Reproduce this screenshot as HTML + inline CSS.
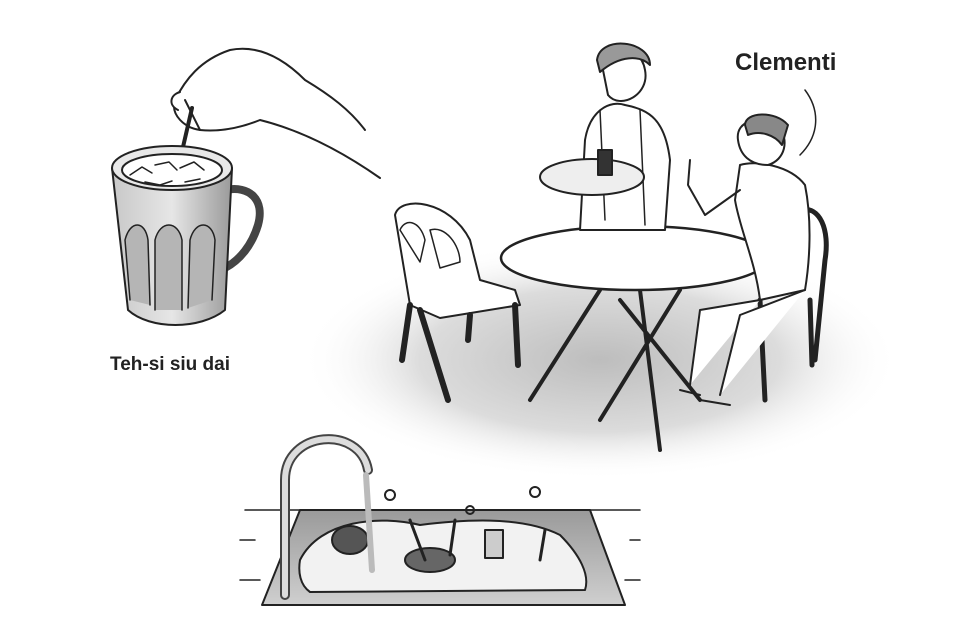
<!DOCTYPE html>
<html><head><meta charset="utf-8"><style>
html,body{margin:0;padding:0;background:#fff;width:960px;height:640px;overflow:hidden}
svg{display:block}
text{font-family:"Liberation Sans",sans-serif;font-weight:bold;fill:#222}
</style></head><body>
<svg width="960" height="640" viewBox="0 0 960 640" xmlns="http://www.w3.org/2000/svg">
<defs>
<radialGradient id="sh" cx="0.5" cy="0.5" r="0.5">
<stop offset="0" stop-color="#bdbdbd"/><stop offset="0.6" stop-color="#dcdcdc"/><stop offset="1" stop-color="#fff" stop-opacity="0"/>
</radialGradient>
<linearGradient id="mug" x1="0" x2="1"><stop offset="0" stop-color="#c8c8c8"/><stop offset="0.5" stop-color="#e6e6e6"/><stop offset="1" stop-color="#9a9a9a"/></linearGradient>
<linearGradient id="sink" x1="0" y1="0" x2="0" y2="1"><stop offset="0" stop-color="#9a9a9a"/><stop offset="1" stop-color="#cfcfcf"/></linearGradient>
</defs>
<g stroke="#222" stroke-width="2" fill="none" stroke-linecap="round" stroke-linejoin="round">
<!-- shadow -->
<ellipse cx="600" cy="360" rx="300" ry="120" fill="url(#sh)" stroke="none"/>
<!-- hand -->
<path d="M380 178 C340 150 300 130 260 120 C240 128 220 132 200 130 C185 128 170 115 175 100 C185 80 200 60 230 50 C255 45 280 55 305 80 C330 95 350 110 365 130" fill="#fff"/>
<path d="M200 130 C195 120 190 110 185 100"/>
<path d="M180 92 C170 95 168 105 178 110" fill="#fff"/>
<!-- spoon -->
<line x1="192" y1="108" x2="180" y2="160" stroke-width="4"/>
<!-- mug -->
<path d="M225 190 C250 185 265 200 258 225 C252 245 240 260 225 268" stroke-width="8" stroke="#444"/>
<path d="M112 168 L128 310 C150 330 200 330 225 310 L232 168 Z" fill="url(#mug)"/>
<ellipse cx="172" cy="168" rx="60" ry="22" fill="#e8e8e8"/>
<ellipse cx="172" cy="170" rx="50" ry="16" fill="#fff"/>
<path d="M130 175 l12 -8 l10 6 M155 165 l14 -3 l8 8 M180 168 l14 -6 l10 8 M145 182 l15 3 l12 -4 M185 182 l15 -3" stroke-width="1.5"/>
<path d="M130 300 L125 240 C130 220 145 220 148 240 L150 305 M155 310 L155 240 C160 220 178 220 182 240 L182 310 M188 308 L190 240 C195 220 212 220 215 240 L212 300" fill="#b5b5b5" stroke-width="1.5"/>
<!-- left chair -->
<path d="M395 215 C400 195 450 200 470 240 L480 280 L515 290 L520 305 L440 318 L410 305 Z" fill="#fff"/>
<path d="M400 230 C405 218 420 220 425 240 L420 262 Z M430 230 C445 225 460 245 460 262 L440 268 Z" fill="#fff" stroke-width="1.5"/>
<path d="M410 305 L402 360 M420 310 L448 400 M515 305 L518 365 M470 315 L468 340" stroke-width="6"/>
<!-- table -->
<path d="M600 290 L530 400 M640 290 L660 450 M680 290 L600 420 M620 300 L700 400" stroke-width="4"/>
<ellipse cx="635" cy="258" rx="134" ry="32" fill="#fff" stroke-width="2.5"/>
<!-- waiter -->
<path d="M580 230 L585 140 C590 110 610 100 625 105 C650 110 665 120 670 160 L665 230 Z" fill="#fff"/>
<path d="M600 110 L605 220 M640 110 L645 225" stroke-width="1.5"/>
<path d="M603 70 C600 45 640 40 645 70 C650 95 620 110 608 95 Z" fill="#fff"/>
<path d="M597 60 C600 35 650 40 650 65 C640 55 620 55 600 72 Z" fill="#999"/>
<ellipse cx="592" cy="177" rx="52" ry="18" fill="#eee"/>
<rect x="598" y="150" width="14" height="25" fill="#333"/>
<!-- man chair -->
<path d="M800 210 C820 205 830 230 825 260 L815 360 M760 300 L765 400 M810 300 L812 365" stroke-width="5"/>
<!-- man -->
<path d="M740 165 C755 160 790 165 805 185 C812 220 810 260 805 290 L760 300 C755 260 740 230 735 200 Z" fill="#fff"/>
<path d="M738 140 C735 120 760 115 778 125 C790 140 785 160 768 165 C750 165 740 155 738 140 Z" fill="#fff"/>
<path d="M745 125 C745 112 775 110 788 125 L782 145 C775 135 760 130 748 135 Z" fill="#888"/>
<path d="M740 190 L705 215 L688 185 M688 185 L690 160" stroke-width="2"/>
<path d="M760 300 L700 310 L690 385 M805 290 L740 315 L720 395" fill="#fff"/>
<path d="M680 390 L700 395 M700 400 L730 405"/>
<path d="M805 90 C820 110 820 135 800 155" stroke-width="1.5"/>
<!-- sink -->
<path d="M245 510 L640 510 M240 580 L260 580 M625 580 L640 580 M240 540 L255 540 M630 540 L640 540" stroke-width="1.5"/>
<path d="M262 605 L300 510 L590 510 L625 605 Z" fill="url(#sink)"/>
<path d="M300 560 C320 520 380 515 420 525 C460 520 520 515 560 535 C580 555 590 575 585 590 L310 592 C300 585 298 572 300 560 Z" fill="#f2f2f2"/>
<ellipse cx="350" cy="540" rx="18" ry="14" fill="#555"/>
<ellipse cx="430" cy="560" rx="25" ry="12" fill="#666"/>
<rect x="485" y="530" width="18" height="28" fill="#ccc"/>
<path d="M410 520 L425 560 M455 520 L450 555 M545 530 L540 560" stroke-width="3"/>
<!-- faucet -->
<path d="M285 595 L285 480 C285 430 360 425 368 470" stroke-width="10" stroke="#444"/>
<path d="M285 595 L285 480 C285 430 360 425 368 470" stroke-width="6" stroke="#ddd"/>
<path d="M366 475 L372 570" stroke="#bbb" stroke-width="6"/>
<circle cx="390" cy="495" r="5"/><circle cx="470" cy="510" r="4"/><circle cx="535" cy="492" r="5"/>
</g>
<text x="110" y="370" font-size="19">Teh-si siu dai</text>
<text x="735" y="70" font-size="24">Clementi</text>
</svg>
</body></html>
